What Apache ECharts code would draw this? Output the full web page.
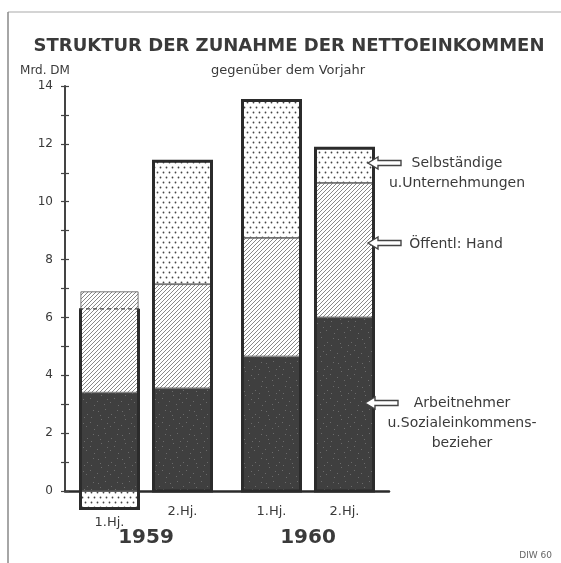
<!DOCTYPE html>
<html>
<head>
<meta charset="utf-8">
<script src="https://cdn.jsdelivr.net/npm/echarts@6/dist/echarts.min.js"></script>
<style>
  html, body { margin: 0; padding: 0; background: #fff; }
  #chart { width: 561px; height: 563px; }
</style>
</head>
<body>
<div id="chart"></div>
<script>
  const years = ['1959', '1960'];
  const halfYears = ['1.Hj.', '2.Hj.'];
  // order: 1959 1.Hj., 1959 2.Hj., 1960 1.Hj., 1960 2.Hj.  (Mrd. DM)
  const arbeitnehmer = [3.4, 3.55, 4.65, 6.0];
  const oeffentlHand = [3.5, 3.6, 4.1, 4.65];
  const selbstaendige = [-0.6, 4.25, 4.75, 1.2];
  const yLabels = [0, 2, 4, 6, 8, 10, 12, 14];

  const BAR_W = 58;
  const BAR_GAP = 15;
  const INK = '#3a3a3a';
  const FONT = 'DejaVu Sans';

  function makePattern(w, h, draw) {
    const c = document.createElement('canvas');
    c.width = w;
    c.height = h;
    draw(c.getContext('2d'));
    return { image: c, repeat: 'repeat' };
  }

  // dark speckled fill
  const specks = [[2, 3], [9, 1], [15, 6], [21, 2], [5, 11], [12, 9], [18, 14], [1, 17], [8, 20], [14, 18], [22, 21], [11, 15], [19, 9], [4, 7]];
  const darkFill = makePattern(24, 24, ctx => {
    ctx.fillStyle = '#3f3f3f';
    ctx.fillRect(0, 0, 24, 24);
    ctx.fillStyle = '#6b6b6b';
    specks.forEach(p => ctx.fillRect(p[0], p[1], 1, 1));
  });
  // diagonal hatching
  const hatchFill = makePattern(4, 4, ctx => {
    ctx.fillStyle = '#fff';
    ctx.fillRect(0, 0, 4, 4);
    ctx.strokeStyle = '#6a6a6a';
    ctx.lineWidth = 0.8;
    ctx.beginPath();
    ctx.moveTo(-1, 5); ctx.lineTo(5, -1);
    ctx.moveTo(-1, 1); ctx.lineTo(1, -1);
    ctx.moveTo(3, 5); ctx.lineTo(5, 3);
    ctx.stroke();
  });
  // dotted fill
  const dotFill = makePattern(6, 10, ctx => {
    ctx.fillStyle = '#fff';
    ctx.fillRect(0, 0, 6, 10);
    ctx.fillStyle = '#444';
    ctx.beginPath();
    ctx.arc(1.5, 2.5, 0.9, 0, Math.PI * 2);
    ctx.arc(4.5, 7.5, 0.9, 0, Math.PI * 2);
    ctx.fill();
  });

  const parts = [
    { name: 'Arbeitnehmer u. Sozialeinkommensbezieher', values: arbeitnehmer, fill: darkFill },
    { name: 'Öffentl. Hand', values: oeffentlHand, fill: hatchFill },
    { name: 'Selbständige u. Unternehmungen', values: selbstaendige, fill: dotFill }
  ];

  const series = [];
  halfYears.forEach((hj, h) => {
    parts.forEach(p => {
      series.push({
        type: 'bar',
        name: p.name,
        stack: 'h' + h,
        xAxisIndex: 0,
        yAxisIndex: 0,
        barWidth: BAR_W,
        barGap: (BAR_GAP / BAR_W * 100) + '%',
        silent: true,
        itemStyle: { color: p.fill, borderColor: '#555', borderWidth: 0.8 },
        data: years.map((y, yi) => p.values[yi * 2 + h])
      });
    });
  });

  // heavy frame round each bar: from the negative part up to the net total
  const frameData = [];
  years.forEach((y, yi) => {
    halfYears.forEach((hj, h) => {
      const vals = parts.map(p => p.values[yi * 2 + h]);
      const low = vals.filter(v => v < 0).reduce((a, b) => a + b, 0);
      const net = vals.reduce((a, b) => a + b, 0);
      frameData.push([yi, low, net, h, low < 0 ? 1 : 0]);
    });
  });

  series.push({
    type: 'custom',
    xAxisIndex: 0,
    yAxisIndex: 0,
    clip: false,
    silent: true,
    z: 5,
    encode: { x: 0, y: [1, 2] },
    data: frameData,
    renderItem: function (params, api) {
      const yi = api.value(0);
      const low = api.value(1);
      const high = api.value(2);
      const h = api.value(3);
      const dashed = api.value(4) === 1;
      const base = api.coord([yi, 0]);
      const pLow = api.coord([yi, low]);
      const pHigh = api.coord([yi, high]);
      const cx = base[0] + (h === 0 ? -1 : 1) * (BAR_W + BAR_GAP) / 2;
      const x0 = cx - BAR_W / 2;
      const x1 = cx + BAR_W / 2;
      const labelY = Math.max(base[1] + 21, pLow[1] + 14);
      return {
        type: 'group',
        children: [
          {
            type: 'polyline',
            shape: { points: [[x0, pHigh[1]], [x0, pLow[1]], [x1, pLow[1]], [x1, pHigh[1]]] },
            style: { stroke: '#2b2b2b', lineWidth: 3, fill: null, lineJoin: 'miter' }
          },
          {
            type: 'line',
            shape: { x1: x0 - 1.5, y1: pHigh[1], x2: x1 + 1.5, y2: pHigh[1] },
            style: dashed
              ? { stroke: '#444', lineWidth: 1.2, lineDash: [4, 3] }
              : { stroke: '#2b2b2b', lineWidth: 3 }
          },
          {
            type: 'text',
            style: {
              text: halfYears[h], x: cx, y: labelY,
              align: 'center', verticalAlign: 'middle',
              fill: INK, fontSize: 13, fontFamily: FONT
            }
          }
        ]
      };
    }
  });

  function arrow(tx, ty) {
    return {
      type: 'polygon',
      shape: { points: [[tx, ty], [tx + 10, ty - 6], [tx + 10, ty - 2.5], [tx + 33, ty - 2.5], [tx + 33, ty + 2.5], [tx + 10, ty + 2.5], [tx + 10, ty + 6]] },
      style: { fill: '#fff', stroke: '#444', lineWidth: 1.4 },
      z: 10
    };
  }
  function label(text, x, y, size, extra) {
    return {
      type: 'text', z: 10,
      style: Object.assign({
        text: text, x: x, y: y, align: 'center', verticalAlign: 'middle',
        fill: INK, fontSize: size, fontFamily: FONT, lineHeight: 20
      }, extra || {})
    };
  }

  const chart = echarts.init(document.getElementById('chart'), null, { renderer: 'canvas' });
  chart.setOption({
    backgroundColor: '#fff',
    animation: false,
    grid: [
      { left: 65, right: 172, top: 86, bottom: 43, outerBoundsMode: 'none', containLabel: false },
      { left: 65, right: 172, top: 86, bottom: 72, outerBoundsMode: 'none', containLabel: false }
    ],
    xAxis: [
      {
        type: 'category', gridIndex: 0, data: years,
        axisLine: { onZero: true, lineStyle: { color: '#2b2b2b', width: 2.5 } },
        axisTick: { show: false },
        axisLabel: { margin: 8, fontSize: 20, fontWeight: 'bold', color: INK, fontFamily: FONT }
      },
      { type: 'category', gridIndex: 1, data: years, show: false }
    ],
    yAxis: [
      { type: 'value', gridIndex: 0, min: -1, max: 14, show: false },
      {
        type: 'value', gridIndex: 1, min: 0, max: 14, interval: 1, position: 'left',
        axisLine: { show: true, lineStyle: { color: '#444', width: 2 } },
        axisTick: { show: true, length: 4, lineStyle: { color: '#444', width: 1.2 } },
        splitLine: { show: false },
        axisLabel: {
          margin: 12, fontSize: 12, color: INK, fontFamily: FONT,
          formatter: v => (yLabels.indexOf(v) >= 0 ? String(v) : '')
        }
      },
      {
        type: 'value', gridIndex: 1, min: 0, max: 14, interval: 1, position: 'left', offset: 0,
        axisLine: { show: false },
        axisTick: { show: true, inside: true, length: 4, lineStyle: { color: '#444', width: 1.2 } },
        splitLine: { show: false },
        axisLabel: { show: false }
      }
    ],
    graphic: [
      { type: 'line', shape: { x1: 8, y1: 12, x2: 561, y2: 12 }, style: { stroke: '#aaa', lineWidth: 1.2 } },
      { type: 'line', shape: { x1: 8, y1: 12, x2: 8, y2: 563 }, style: { stroke: '#888', lineWidth: 1.5 } },
      label('STRUKTUR DER ZUNAHME DER NETTOEINKOMMEN', 289, 46, 18, { fontWeight: 'bold' }),
      label('gegenüber dem Vorjahr', 288, 71, 13),
      label('Mrd. DM', 45, 71, 12),
      arrow(368, 163),
      label('Selbständige\nu.Unternehmungen', 457, 173, 14),
      arrow(368, 243),
      label('Öffentl: Hand', 456, 244, 14),
      arrow(365, 403),
      label('Arbeitnehmer\nu.Sozialeinkommens-\nbezieher', 462, 423, 14),
      label('DIW 60', 552, 556, 9, { align: 'right', fill: '#666' })
    ],
    series: series
  });
</script>
</body>
</html>
